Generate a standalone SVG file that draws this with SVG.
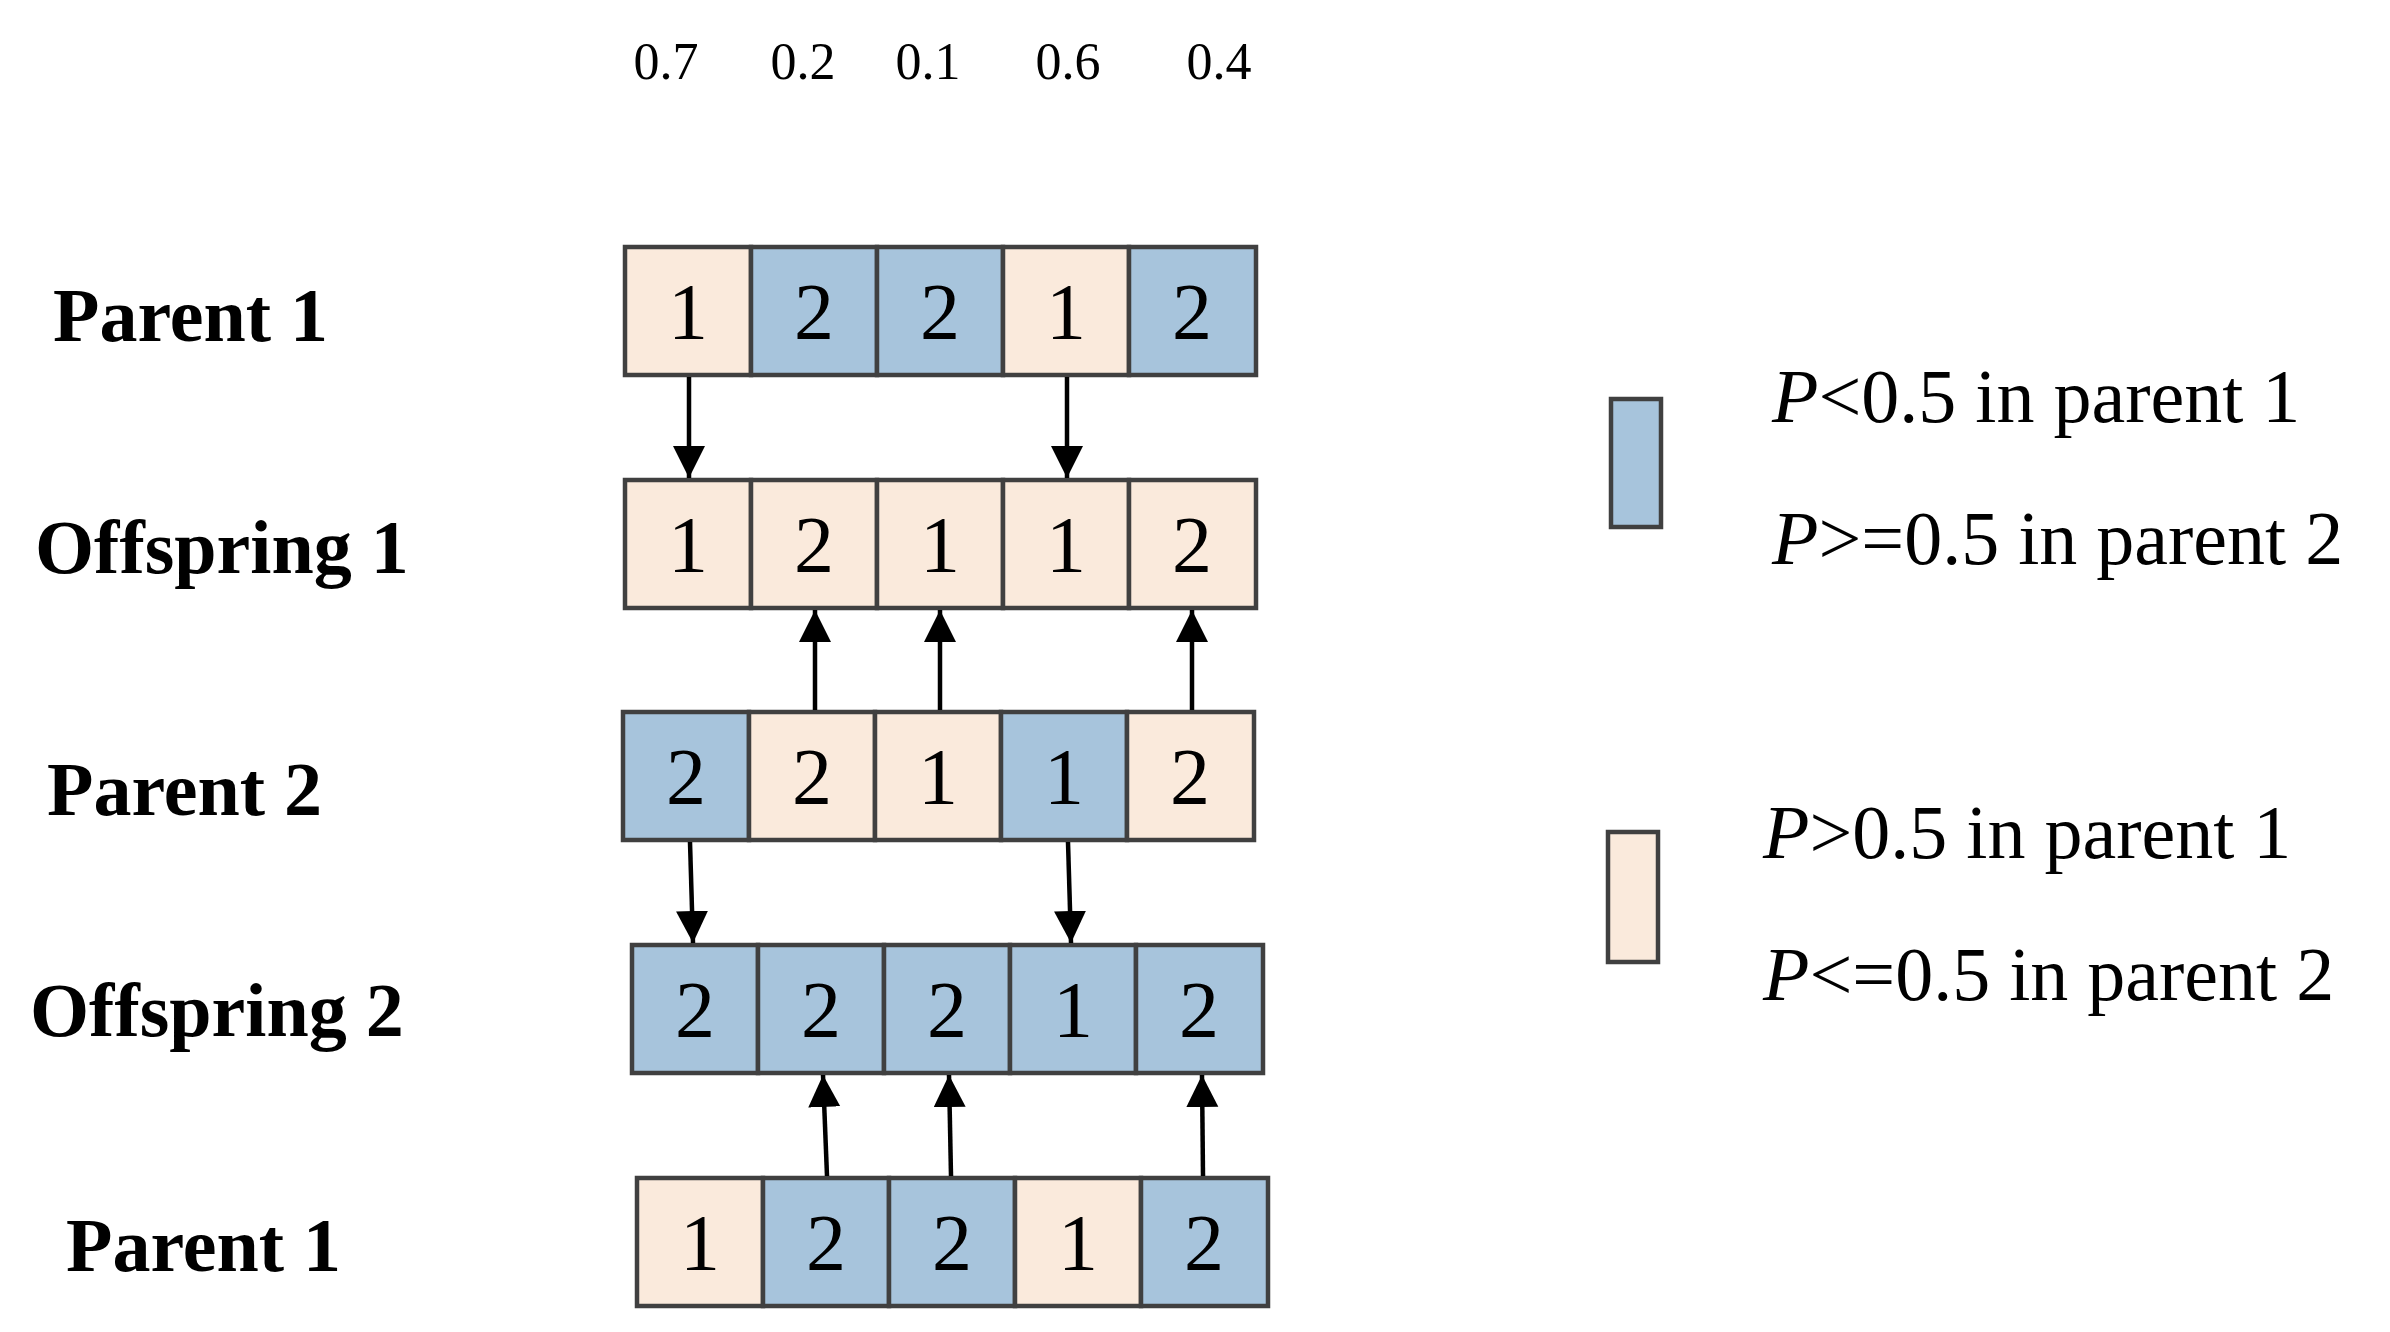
<svg xmlns="http://www.w3.org/2000/svg" width="2390" height="1332" viewBox="0 0 2390 1332">
<style>
.b{fill:#A7C4DC;stroke:#404040;stroke-width:4.5}
.e{fill:#FAEADC;stroke:#404040;stroke-width:4.5}
.d{font-family:"Liberation Serif",serif;font-size:80px;text-anchor:middle;fill:#000}
.l{font-family:"Liberation Serif",serif;font-size:76px;font-weight:bold;fill:#000}
.t{font-family:"Liberation Serif",serif;font-size:52px;text-anchor:middle;fill:#000}
.g{font-family:"Liberation Serif",serif;font-size:76px;fill:#000}
.c{stroke:#000;stroke-width:4.5;fill:none;marker-end:url(#a)}
</style>
<defs>
<marker id="a" markerUnits="userSpaceOnUse" markerWidth="32" markerHeight="46" refX="32" refY="16" orient="auto"><path d="M0,0 L32,16 L0,32 Z" fill="#000"/></marker>
</defs>
<g id="probs">
<text class="t" x="666" y="79">0.7</text><text class="t" x="803" y="79">0.2</text><text class="t" x="928" y="79">0.1</text><text class="t" x="1068" y="79">0.6</text><text class="t" x="1219" y="79">0.4</text>
</g>
<g id="parent1">
<text class="l" x="53" y="341">Parent 1</text>
<rect class="e" x="625" y="247" width="126" height="128"/><rect class="b" x="751" y="247" width="126" height="128"/><rect class="b" x="877" y="247" width="126" height="128"/><rect class="e" x="1003" y="247" width="126" height="128"/><rect class="b" x="1129" y="247" width="127" height="128"/>
<text class="d" x="688" y="339">1</text><text class="d" x="814" y="339">2</text><text class="d" x="940" y="339">2</text><text class="d" x="1066" y="339">1</text><text class="d" x="1192" y="339">2</text>
</g>
<g id="offspring1">
<text class="l" x="35" y="573">Offspring 1</text>
<rect class="e" x="625" y="480" width="126" height="128"/><rect class="e" x="751" y="480" width="126" height="128"/><rect class="e" x="877" y="480" width="126" height="128"/><rect class="e" x="1003" y="480" width="126" height="128"/><rect class="e" x="1129" y="480" width="127" height="128"/>
<text class="d" x="688" y="572">1</text><text class="d" x="814" y="572">2</text><text class="d" x="940" y="572">1</text><text class="d" x="1066" y="572">1</text><text class="d" x="1192" y="572">2</text>
</g>
<g id="parent2">
<text class="l" x="47" y="815">Parent 2</text>
<rect class="b" x="623" y="712" width="126" height="128"/><rect class="e" x="749" y="712" width="126" height="128"/><rect class="e" x="875" y="712" width="126" height="128"/><rect class="b" x="1001" y="712" width="126" height="128"/><rect class="e" x="1127" y="712" width="127" height="128"/>
<text class="d" x="686" y="804">2</text><text class="d" x="812" y="804">2</text><text class="d" x="938" y="804">1</text><text class="d" x="1064" y="804">1</text><text class="d" x="1190" y="804">2</text>
</g>
<g id="offspring2">
<text class="l" x="30" y="1036">Offspring 2</text>
<rect class="b" x="632" y="945" width="126" height="128"/><rect class="b" x="758" y="945" width="126" height="128"/><rect class="b" x="884" y="945" width="126" height="128"/><rect class="b" x="1010" y="945" width="126" height="128"/><rect class="b" x="1136" y="945" width="127" height="128"/>
<text class="d" x="695" y="1037">2</text><text class="d" x="821" y="1037">2</text><text class="d" x="947" y="1037">2</text><text class="d" x="1073" y="1037">1</text><text class="d" x="1199" y="1037">2</text>
</g>
<g id="parent1b">
<text class="l" x="66" y="1271">Parent 1</text>
<rect class="e" x="637" y="1178" width="126" height="128"/><rect class="b" x="763" y="1178" width="126" height="128"/><rect class="b" x="889" y="1178" width="126" height="128"/><rect class="e" x="1015" y="1178" width="126" height="128"/><rect class="b" x="1141" y="1178" width="127" height="128"/>
<text class="d" x="700" y="1270">1</text><text class="d" x="826" y="1270">2</text><text class="d" x="952" y="1270">2</text><text class="d" x="1078" y="1270">1</text><text class="d" x="1204" y="1270">2</text>
</g>
<g id="connectors">
<line class="c" x1="689" y1="377" x2="689" y2="478"/>
<line class="c" x1="1067" y1="377" x2="1067" y2="478"/>
<line class="c" x1="815" y1="710" x2="815" y2="610"/>
<line class="c" x1="940" y1="710" x2="940" y2="610"/>
<line class="c" x1="1192" y1="710" x2="1192" y2="610"/>
<line class="c" x1="690" y1="842" x2="693" y2="943"/>
<line class="c" x1="1068" y1="842" x2="1071" y2="943"/>
<line class="c" x1="827" y1="1176" x2="823" y2="1075"/>
<line class="c" x1="951" y1="1176" x2="949" y2="1075"/>
<line class="c" x1="1203" y1="1176" x2="1202" y2="1075"/>
</g>
<g id="legend">
<rect class="b" x="1611" y="399" width="50" height="128"/>
<rect class="e" x="1608" y="832" width="50" height="130"/>
<text class="g" x="1772" y="422"><tspan font-style="italic">P</tspan>&lt;0.5 in parent 1</text>
<text class="g" x="1772" y="564"><tspan font-style="italic">P</tspan>&gt;=0.5 in parent 2</text>
<text class="g" x="1763" y="858"><tspan font-style="italic">P</tspan>&gt;0.5 in parent 1</text>
<text class="g" x="1763" y="1000"><tspan font-style="italic">P</tspan>&lt;=0.5 in parent 2</text>
</g>
</svg>
